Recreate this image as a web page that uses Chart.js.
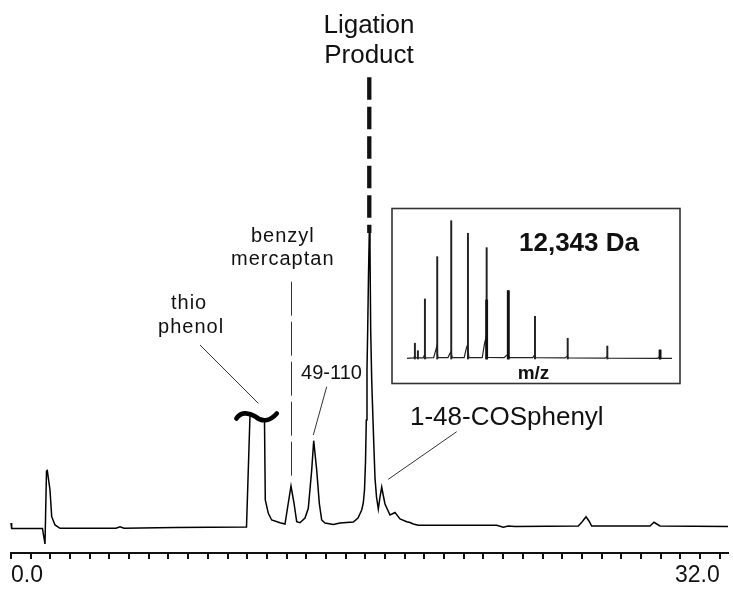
<!DOCTYPE html>
<html>
<head>
<meta charset="utf-8">
<script src="https://cdn.jsdelivr.net/npm/chart.js@4.4.1/dist/chart.umd.min.js"></script>
<style>
  html, body { margin: 0; padding: 0; background: #ffffff; }
  #wrap { position: relative; width: 733px; height: 589px; overflow: hidden; }
  #main { position: absolute; left: 0; top: 0; }
  #inset { position: absolute; left: 391px; top: 207px; }
</style>
</head>
<body>
<div id="wrap">
  <canvas id="main" width="733" height="589"></canvas>
  <canvas id="inset" width="290" height="178"></canvas>
</div>
<script>
// ---------------- Chromatogram data (retention time in min, signal in mAU) ----------------
const timeMin = [
  0.00, 0.03, 1.42, 1.535, 1.603, 1.639, 1.761, 1.838, 1.987, 2.212,
  4.741, 4.922, 5.102, 7.405, 10.634, 10.792, 11.446, 11.482, 11.618, 11.771,
  12.146, 12.372, 12.521, 12.643, 12.778, 12.900, 13.049, 13.275, 13.424, 13.578,
  13.668, 13.803, 13.921, 14.029, 14.178, 14.553, 14.855, 15.456, 15.668, 15.835,
  15.907, 15.962, 16.007, 16.043, 16.074, 16.106, 16.142, 16.178, 16.210, 16.241,
  16.287, 16.345, 16.391, 16.436, 16.504, 16.585, 16.661, 16.738, 16.797, 16.887,
  17.113, 17.339, 17.565, 17.867, 18.016, 18.165, 18.391, 21.931, 22.229, 22.455,
  22.757, 25.615, 25.782, 25.963, 26.098, 26.220, 28.853, 29.033, 29.304, 32.375
];
const signalMAU = [
  5, -0.5, -0.5, -16, 57, 57.5, 38, 11.3, 3, -0.3,
  -0.3, 1.3, -0.3, 0.5, 1, 113, 108, 28, 14.7, 8,
  5.3, 4, 25, 42, 25, 6.3, 5.3, 10, 19.7, 58,
  87.3, 58, 24.7, 8, 5, 3.5, 5, 6, 10, 18,
  25, 38, 66, 108, 158, 198, 253, 295, 278, 198,
  148, 108, 78, 50, 31, 19, 31, 41, 34, 24,
  13, 15.5, 9, 6.3, 5.5, 4, 2.7, 2.7, 0.7, 2,
  1.5, 2, 6, 11.3, 7, 2, 2, 5.7, 2, 1.5
];
// x-axis ticks
const xTickCount = 37;          // tick marks from 0.0 to 32.0
const xTickEnd = 32;
const xTickLabels = { 0: '0.0', 32: '32.0' };

// ---------------- Inset mass spectrum data (m/z, relative intensity %) ----------------
const mzSticks   = [771.5, 787.2, 824.1, 888.7, 962.2, 1049.9, 1148.1, 1261.6, 1401.8, 1573.5, 1781.5, 2058.3];
const stickInt   = [11.4, 6.0, 43.4, 74.0, 100, 90.9, 80.5, 49.4, 30.9, 15.0, 9.4, 6.5];
const mzStubs    = [1148.1, 1261.6, 2058.3];
const stubInt    = [42.7, 49.4, 6.5];
const mzBaseline = [730, 765, 771, 778, 815, 822, 828, 870, 882, 886, 892, 945, 955, 960, 968, 1030, 1042, 1047, 1055,
                    1125, 1138, 1144, 1152, 1240, 1252, 1258, 1270, 1390, 1398, 1406, 1560, 1570, 1578, 1770, 1778, 1786,
                    2045, 2055, 2062, 2121];
const baseInt    = [0.5, 0.8, 2, 0.8, 0.8, 3, 0.8, 1.0, 7, 9, 1.0, 1.0, 4, 5, 1.0, 1.0, 8, 10, 1.0,
                    1.0, 12, 15, 1.2, 1.0, 2.5, 3, 1.0, 1.0, 2.5, 1.0, 0.8, 2, 0.8, 0.6, 1.5, 0.6,
                    0.5, 1.5, 0.5, 0.4];
const massLabel = '12,343 Da';
const mzTitle = 'm/z';

// ---------------- Annotations (anchored in data units) ----------------
const FONT = "'Liberation Sans', Arial, Helvetica, sans-serif";
const annotations = {
  ligation: { lines: ['Ligation', 'Product'], t: 16.165, v: [494.7, 464.7], dashFrom: 450.7, dashTo: 295, dashT: 16.178 },
  benzyl:   { lines: ['benzyl', 'mercaptan'], t: 12.25, v: [286.3, 263], dashT: 12.66, dashFrom: 246.3, dashTo: 47 },
  thio:     { lines: ['thio', 'phenol'], t: [8.02, 8.11], v: [218.6, 195.3], lead: [[8.534, 183], [11.166, 124.7]] },
  p49:      { text: '49-110', t: 14.472, v: 148.7, lead: [[14.255, 141.3], [13.650, 93]] },
  p148:     { text: '1-48-COSphenyl', t: 18.016, v: 103, lead: [[20.125, 96.3], [17.036, 48.7]] },
  tilde:    { t: 11.08, v: 111.5 }
};

const annotationPlugin = {
  id: 'chromAnnotations',
  afterDatasetsDraw(chart) {
    const ctx = chart.ctx;
    const xs = chart.scales.x, ys = chart.scales.y;
    const px = t => xs.getPixelForValue(t);
    const py = v => ys.getPixelForValue(v);
    ctx.save();
    ctx.fillStyle = '#111';
    ctx.strokeStyle = '#111';
    ctx.textBaseline = 'alphabetic';

    // Ligation Product
    const L = annotations.ligation;
    ctx.font = '26px ' + FONT;
    ctx.textAlign = 'center';
    L.lines.forEach((s, i) => ctx.fillText(s, px(L.t), py(L.v[i])));
    ctx.lineWidth = 4.3;
    ctx.setLineDash([22.5, 7]);
    ctx.beginPath();
    ctx.moveTo(px(L.dashT), py(L.dashFrom));
    ctx.lineTo(px(L.dashT), py(L.dashTo));
    ctx.stroke();

    // benzyl mercaptan
    const B = annotations.benzyl;
    ctx.font = '20px ' + FONT;
    ctx.letterSpacing = '1px';
    B.lines.forEach((s, i) => ctx.fillText(s, px(B.t) + 0.5, py(B.v[i])));
    ctx.lineWidth = 1;
    ctx.strokeStyle = '#333';
    ctx.setLineDash([34, 6]);
    ctx.beginPath();
    ctx.moveTo(Math.round(px(B.dashT)) + 0.5, py(B.dashFrom));
    ctx.lineTo(Math.round(px(B.dashT)) + 0.5, py(B.dashTo));
    ctx.stroke();
    ctx.setLineDash([]);

    // thio phenol
    const T = annotations.thio;
    T.lines.forEach((s, i) => ctx.fillText(s, px(T.t[i]) + 0.5, py(T.v[i])));
    ctx.letterSpacing = '0px';
    const lead = (pts) => {
      ctx.lineWidth = 1;
      ctx.strokeStyle = '#333';
      ctx.beginPath();
      ctx.moveTo(px(pts[0][0]), py(pts[0][1]));
      ctx.lineTo(px(pts[1][0]), py(pts[1][1]));
      ctx.stroke();
    };
    lead(T.lead);

    // 49-110
    const P = annotations.p49;
    ctx.font = '20px ' + FONT;
    ctx.textAlign = 'center';
    ctx.fillText(P.text, px(P.t), py(P.v));
    lead(P.lead);

    // 1-48-COSphenyl
    const Q = annotations.p148;
    ctx.font = '26px ' + FONT;
    ctx.textAlign = 'left';
    ctx.fillText(Q.text, px(Q.t), py(Q.v));
    lead(Q.lead);

    // break mark (~) on the truncated thiophenol peak
    const cx = px(annotations.tilde.t), cy = py(annotations.tilde.v);
    ctx.strokeStyle = '#000';
    ctx.lineWidth = 4.6;
    ctx.lineCap = 'round';
    ctx.beginPath();
    ctx.moveTo(cx - 20, cy + 2);
    ctx.bezierCurveTo(cx - 16, cy - 4.5, cx - 8, cy - 4.5, cx - 1, cy);
    ctx.bezierCurveTo(cx + 5, cy + 5.5, cx + 13, cy + 5.5, cx + 20.4, cy - 3);
    ctx.stroke();
    ctx.restore();
  }
};

new Chart(document.getElementById('main'), {
  type: 'line',
  data: {
    datasets: [{
      data: timeMin.map((t, i) => ({ x: t, y: signalMAU[i] })),
      borderColor: '#000',
      borderWidth: 1.5,
      pointRadius: 0,
      tension: 0,
      fill: false,
      clip: false
    }]
  },
  options: {
    responsive: false,
    animation: false,
    devicePixelRatio: 1,
    layout: { padding: { left: 11, right: 5, top: 10, bottom: 0 } },
    plugins: { legend: { display: false }, tooltip: { enabled: false } },
    scales: {
      x: {
        type: 'linear',
        min: 0,
        max: 32.375,
        afterBuildTicks: s => {
          const ticks = [];
          for (let k = 0; k < xTickCount; k++) ticks.push({ value: xTickEnd * k / (xTickCount - 1) });
          s.ticks = ticks;
        },
        afterFit: s => { s.height = 36; },
        ticks: {
          autoSkip: false,
          maxRotation: 0,
          minRotation: 0,
          align: 'inner',
          padding: 3,
          color: '#111',
          font: { family: FONT, size: 23 },
          callback: (value) => {
            const key = Math.round(value * 1000) / 1000;
            return xTickLabels[key] !== undefined ? xTickLabels[key] : '';
          }
        },
        grid: { drawOnChartArea: false, drawTicks: true, tickLength: 6, color: '#111', lineWidth: 2 },
        border: { display: true, color: '#111', width: 2 }
      },
      y: { display: false, min: -25, max: 518 }
    }
  },
  plugins: [annotationPlugin]
});

// ---------------- Inset ----------------
const insetPlugin = {
  id: 'insetDecor',
  beforeDraw(chart) {
    const ctx = chart.ctx;
    ctx.save();
    ctx.fillStyle = '#fff';
    ctx.fillRect(0, 0, chart.width, chart.height);
    ctx.restore();
  },
  afterDraw(chart) {
    const ctx = chart.ctx;
    ctx.save();
    ctx.strokeStyle = '#333';
    ctx.lineWidth = 1.6;
    ctx.strokeRect(1, 1.5, 288, 175);
    ctx.fillStyle = '#111';
    ctx.textBaseline = 'alphabetic';
    ctx.textAlign = 'left';
    ctx.font = 'bold 26px ' + FONT;
    ctx.fillText(massLabel, 128, 44);
    ctx.font = 'bold 19px ' + FONT;
    ctx.fillText(mzTitle, 126.7, 172);
    ctx.restore();
  }
};

new Chart(document.getElementById('inset'), {
  type: 'bar',
  data: {
    datasets: [
      {
        type: 'line',
        data: mzBaseline.map((m, i) => ({ x: m, y: baseInt[i] })),
        borderColor: '#222',
        borderWidth: 1.2,
        pointRadius: 0,
        tension: 0,
        order: 3
      },
      {
        type: 'bar',
        data: mzSticks.map((m, i) => ({ x: m, y: stickInt[i] })),
        backgroundColor: '#222',
        barThickness: 1.3,
        grouped: false,
        order: 2
      },
      {
        type: 'bar',
        data: mzStubs.map((m, i) => ({ x: m, y: stubInt[i] })),
        backgroundColor: '#111',
        barThickness: 2.2,
        grouped: false,
        order: 1
      }
    ]
  },
  options: {
    responsive: false,
    animation: false,
    devicePixelRatio: 1,
    layout: { padding: { left: 16, right: 9, top: 11, bottom: 22 } },
    plugins: { legend: { display: false }, tooltip: { enabled: false } },
    scales: {
      x: { type: 'linear', display: false, offset: false, grid: { offset: false }, min: 730, max: 2121 },
      y: { display: false, min: -2.89, max: 101.95 }
    }
  },
  plugins: [insetPlugin]
});
</script>
</body>
</html>
